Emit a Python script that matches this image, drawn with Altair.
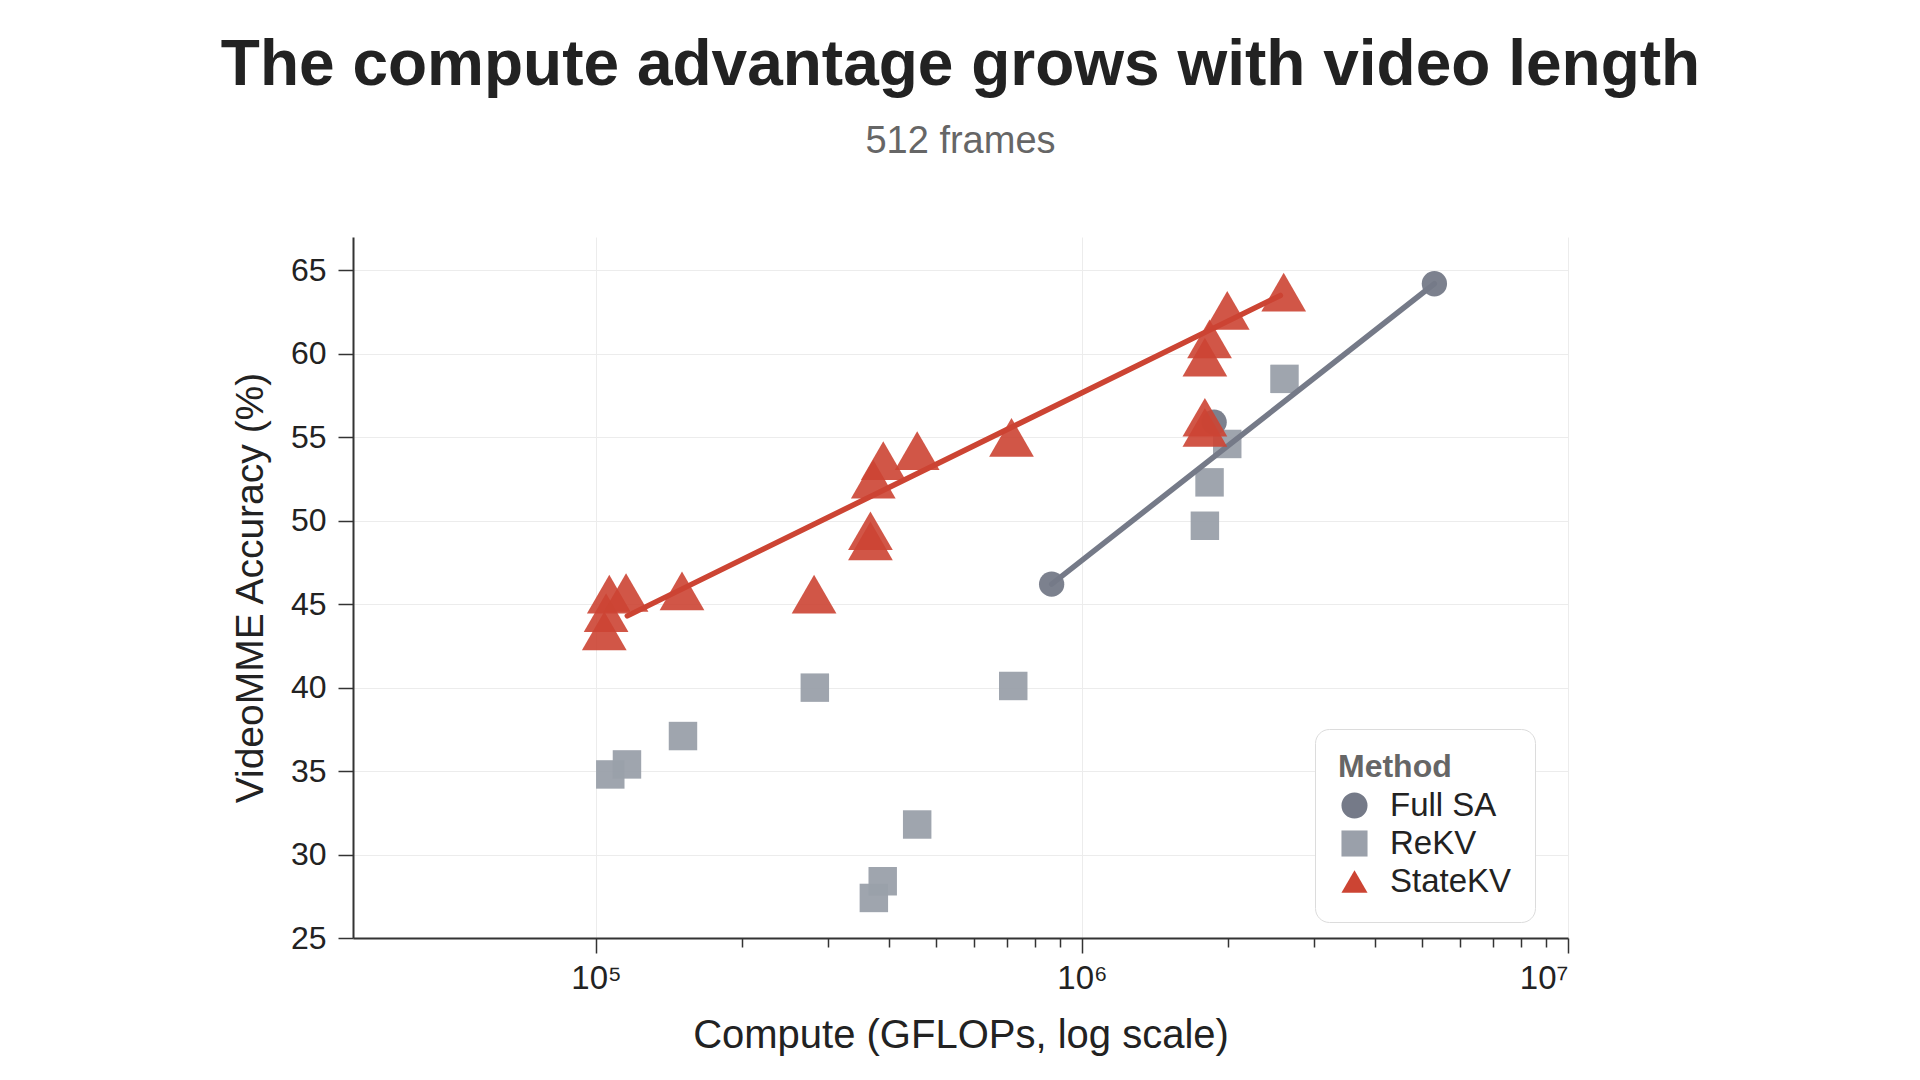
import altair as alt
import pandas as pd

# ---------------- data ----------------
methods = ["Full SA", "ReKV", "StateKV"]
method_colors = ["#757a88", "#9aa0aa", "#cc4433"]
method_shapes = ["circle", "square", "triangle-up"]

fullsa_x = [8.66e5, 1.87e6, 5.31e6]
fullsa_y = [46.2, 55.9, 64.2]

rekv_x = [1.07e5, 1.158e5, 1.51e5, 2.82e5, 3.73e5, 3.89e5, 4.58e5, 7.22e5,
          1.79e6, 1.83e6, 1.99e6, 2.61e6]
rekv_y = [34.8, 35.4, 37.1, 40.0, 27.4, 28.4, 31.8, 40.1,
          49.7, 52.3, 54.6, 58.5]

statekv_x = [1.04e5, 1.049e5, 1.065e5, 1.153e5, 1.503e5, 2.81e5, 3.67e5, 3.67e5,
             3.72e5, 3.90e5, 4.58e5, 7.16e5, 1.79e6, 1.79e6, 1.79e6, 1.83e6,
             1.99e6, 2.60e6]
statekv_y = [43.4, 44.5, 45.6, 45.7, 45.8, 45.6, 48.8, 49.4,
             52.5, 53.6, 54.2, 55.0, 55.6, 56.2, 59.8, 60.9,
             62.6, 63.7]

# trend lines
fullsa_line_x = [8.66e5, 5.31e6]
fullsa_line_y = [46.2, 64.2]
statekv_line_x = [1.16e5, 2.56e6]
statekv_line_y = [44.3, 63.5]

y_ticks = [25, 30, 35, 40, 45, 50, 55, 60, 65]
x_major = [1e5, 1e6, 1e7]
x_minor = [2e5, 3e5, 4e5, 5e5, 6e5, 7e5, 8e5, 9e5,
           2e6, 3e6, 4e6, 5e6, 6e6, 7e6, 8e6, 9e6]
x_major_labels = ["10\u2075", "10\u2076", "10\u2077"]

# ---------------- tables ----------------
fullsa_df = pd.DataFrame({"x": fullsa_x, "y": fullsa_y, "method": "Full SA"})
rekv_df = pd.DataFrame({"x": rekv_x, "y": rekv_y, "method": "ReKV"})
statekv_df = pd.DataFrame({"x": statekv_x, "y": statekv_y, "method": "StateKV"})

lines = pd.concat([
    pd.DataFrame({"x": fullsa_line_x, "y": fullsa_line_y, "method": "Full SA"}),
    pd.DataFrame({"x": statekv_line_x, "y": statekv_line_y, "method": "StateKV"}),
], ignore_index=True)

FONT = "Liberation Sans"

is_major = "datum.value == 100000 || datum.value == 1000000 || datum.value == 10000000"
label_expr = ("datum.value == 100000 ? '%s' : datum.value == 1000000 ? '%s' : "
              "datum.value == 10000000 ? '%s' : ''") % tuple(x_major_labels)

x_enc = alt.X(
    "x:Q",
    scale=alt.Scale(type="log", domain=[10 ** 4.5, 1e7], nice=False),
    axis=alt.Axis(
        title="Compute (GFLOPs, log scale)",
        values=sorted(x_major + x_minor),
        labelExpr=label_expr,
        labelOverlap=False,
        labelFontSize=33,
        labelColor="#222222",
        labelPadding=9,
        tickSize={"condition": {"test": is_major, "value": 15}, "value": 9},
        tickColor="#333333",
        tickWidth=1.5,
        gridOpacity={"condition": {"test": is_major, "value": 1}, "value": 0},
        gridColor="#ececec",
        domainColor="#333333",
        domainWidth=2,
        titleFontSize=40,
        titleFontWeight="normal",
        titleColor="#222222",
        titlePadding=20,
    ),
)

y_enc = alt.Y(
    "y:Q",
    scale=alt.Scale(domain=[25, 67], zero=False, nice=False),
    axis=alt.Axis(
        title="VideoMME Accuracy (%)",
        values=y_ticks,
        labelFontSize=32,
        labelColor="#222222",
        labelPadding=12,
        tickSize=15,
        tickColor="#333333",
        tickWidth=1.5,
        gridColor="#ececec",
        domainColor="#333333",
        domainWidth=2,
        titleFontSize=39,
        titleFontWeight="normal",
        titleColor="#222222",
        titlePadding=20,
    ),
)

legend = alt.Legend(
    title="Method",
    orient="none",
    legendX=962,
    legendY=492,
    padding=23,
    cornerRadius=14,
    strokeColor="#dcdcdc",
    fillColor="#ffffff",
    titleFontSize=32,
    titleFontWeight="bold",
    titleColor="#666666",
    titlePadding=5,
    labelFontSize=33,
    labelColor="#222222",
    labelOffset=19,
    symbolSize=680,
    symbolStrokeWidth=0,
    symbolOpacity=1,
    rowPadding=4,
)

color_enc = alt.Color("method:N", scale=alt.Scale(domain=methods, range=method_colors), legend=legend)
shape_enc = alt.Shape("method:N", scale=alt.Scale(domain=methods, range=method_shapes), legend=legend)

rekv_layer = alt.Chart(rekv_df).mark_point(
    filled=True, opacity=0.95, strokeWidth=0, size=810
).encode(x=x_enc, y=y_enc, color=color_enc, shape=shape_enc)

line_layer = alt.Chart(lines).mark_line(strokeWidth=5.5, strokeCap="round").encode(
    x=x_enc,
    y=y_enc,
    stroke=alt.Stroke("method:N", scale=alt.Scale(domain=methods, range=method_colors), legend=None),
    detail="method:N",
)

fullsa_layer = alt.Chart(fullsa_df).mark_point(
    filled=True, opacity=0.95, strokeWidth=0, size=640
).encode(x=x_enc, y=y_enc, color=color_enc, shape=shape_enc)

statekv_layer = alt.Chart(statekv_df).mark_point(
    filled=True, opacity=0.9, strokeWidth=0, size=2000
).encode(x=x_enc, y=y_enc, color=color_enc, shape=shape_enc)

chart = alt.layer(rekv_layer, line_layer, fullsa_layer, statekv_layer).properties(
    width=1215,
    height=701,
    padding={"left": 353, "top": 237, "right": 352, "bottom": 142},
    autosize=alt.AutoSizeParams(type="none"),
    title=alt.TitleParams(
        text="The compute advantage grows with video length",
        subtitle="512 frames",
        fontSize=64,
        fontWeight="bold",
        color="#222222",
        font=FONT,
        subtitleFont=FONT,
        subtitleFontSize=38,
        subtitleColor="#666666",
        subtitlePadding=25,
        anchor="middle",
        offset=76,
    ),
).configure(
    font=FONT,
    background="white",
).configure_view(stroke=None)

chart.save("out.html", embed_options={"renderer": "svg", "actions": False})
